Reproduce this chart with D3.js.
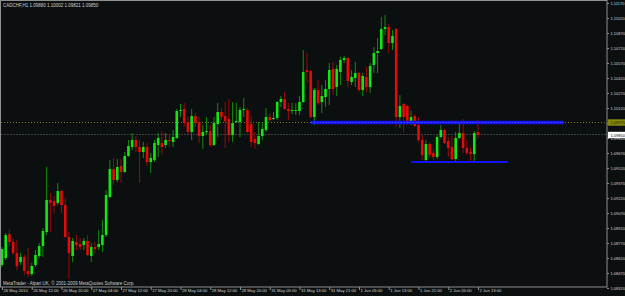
<!DOCTYPE html>
<html>
<head>
<meta charset="utf-8">
<script src="https://cdn.jsdelivr.net/npm/d3@7"></script>
<style>
  html, body { margin: 0; padding: 0; background: #0b0f0f; overflow: hidden; }
  text { font-family: "Liberation Sans", Arial, sans-serif; }
</style>
</head>
<body>
<div id="chart"></div>
<script>
// CADCHF H1, 26 May 04:00 .. 2 Jun 13:00 (2010)
const symbol = "CADCHF,H1";
const footer = "MetaTrader - Alpari UK, © 2001-2009 MetaQuotes Software Corp.";

const open = [1.0855,1.0862,1.0886,1.0878,1.0867,1.0858,1.0863,1.0849,1.0846,1.0855,
  1.0864,1.0874,1.0888,1.0920,1.0919,1.0917,1.0929,1.0915,1.0883,1.0864,
  1.0878,1.0876,1.0875,1.0879,1.0864,1.0873,1.0873,1.0875,1.0885,1.0923,
  1.0951,1.0940,1.0954,1.0948,1.0964,1.0973,1.0980,1.0973,1.0968,1.0973,
  1.0958,1.0960,1.0975,1.0977,1.0975,1.0980,1.0978,1.0982,1.1009,1.1011,
  1.0998,1.0988,1.1004,1.0998,1.0984,1.0988,1.0989,1.0975,1.0996,1.1008,
  1.1004,1.1001,1.0985,1.0998,1.0998,1.1010,1.1010,1.0996,1.0981,1.0976,
  1.0984,1.0990,1.1003,1.1001,1.1002,1.1018,1.1021,1.1011,1.1009,1.1009,
  1.1009,1.1018,1.1050,1.1049,1.1003,1.1030,1.1018,1.1023,1.1031,1.1051,
  1.1033,1.1048,1.1060,1.1062,1.1038,1.1042,1.1047,1.1030,1.1043,1.1033,
  1.1055,1.1067,1.1071,1.1091,1.1093,1.1077,1.1091,1.1003,1.1016,1.1014,
  1.0997,1.1004,1.0995,1.0980,1.0960,1.0976,1.0967,1.0963,1.0983,1.0990,
  1.0979,1.0973,1.0961,1.0982,1.0987,1.0972,1.0968,1.0966,1.09880];

const high = [1.0873,1.0887,1.0890,1.0881,1.0880,1.0867,1.0865,1.0872,1.0857,1.0870,
  1.0877,1.0892,1.0953,1.0927,1.0924,1.0937,1.0930,1.0922,1.0888,1.0882,
  1.0885,1.0882,1.0882,1.0885,1.0877,1.0878,1.0890,1.0900,1.0930,1.0960,
  1.0962,1.0961,1.0961,1.0968,1.0980,1.0987,1.0984,1.0980,1.0978,1.0977,
  1.0967,1.0980,1.0987,1.0989,1.0987,1.0986,1.0990,1.1011,1.1016,1.1017,
  1.1003,1.1011,1.1007,1.1003,1.0995,1.1003,1.0995,1.1003,1.1017,1.1012,
  1.1018,1.1021,1.1018,1.1017,1.1013,1.1022,1.1012,1.1004,1.0988,1.0998,
  1.0998,1.1012,1.1007,1.1008,1.1019,1.1024,1.1028,1.1017,1.1017,1.1017,
  1.1024,1.1070,1.1067,1.1050,1.1032,1.1040,1.1035,1.1040,1.1057,1.1058,
  1.1055,1.1063,1.1064,1.1063,1.1050,1.1058,1.1048,1.1047,1.1053,1.1057,
  1.1073,1.1082,1.1103,1.1105,1.1096,1.1090,1.1092,1.1025,1.1017,1.1015,
  1.1009,1.1006,1.1003,1.0985,1.0980,1.0978,1.0970,1.0985,1.0995,1.0991,
  1.0983,1.0984,1.0988,1.0997,1.1001,1.0980,1.0973,1.0989,1.10002];

const low = [1.0853,1.0860,1.0875,1.0865,1.0850,1.0855,1.0845,1.0843,1.0844,1.0853,
  1.0862,1.0863,1.0885,1.0888,1.0907,1.0915,1.0907,1.0882,1.0841,1.0858,
  1.0870,1.0870,1.0870,1.0864,1.0858,1.0867,1.0870,1.0868,1.0883,1.0922,
  1.0935,1.0938,1.0937,1.0947,1.0963,1.0970,1.0968,1.0937,1.0962,1.0954,
  1.0947,1.0958,1.0963,1.0965,1.0972,1.0973,1.0973,1.0981,1.1003,1.0993,
  1.0985,1.0980,1.0993,1.0977,1.0971,1.0985,1.0973,1.0974,1.0983,1.1000,
  1.0972,1.0978,1.0978,1.0997,1.0983,1.1003,1.0987,1.0973,1.0971,1.0975,
  1.0980,1.0988,1.0998,1.1000,1.1000,1.1013,1.1010,1.1000,1.1006,1.1005,
  1.1005,1.1017,1.1037,1.1002,1.0995,1.1015,1.1007,1.1013,1.1015,1.1025,
  1.1024,1.1035,1.1057,1.1033,1.1035,1.1033,1.1028,1.1024,1.1028,1.1027,
  1.1047,1.1047,1.1070,1.1085,1.1067,1.1070,1.0993,1.0992,1.0988,1.0995,
  1.0995,1.0993,1.0978,1.0960,1.0958,1.0962,1.0960,1.0961,1.0982,1.0976,
  1.0963,1.0960,1.0959,1.0981,1.0967,1.0965,1.0957,1.0958,1.09821];

const close = [1.0871,1.0885,1.0878,1.0867,1.0854,1.0863,1.0849,1.0846,1.0854,1.0865,
  1.0874,1.0889,1.0920,1.0917,1.0914,1.0929,1.0915,1.0883,1.0867,1.0879,
  1.0875,1.0873,1.0879,1.0865,1.0873,1.0871,1.0876,1.0885,1.0925,1.0951,
  1.0940,1.0953,1.0948,1.0964,1.0974,1.0980,1.0973,1.0968,1.0973,1.0958,
  1.0962,1.0977,1.0982,1.0973,1.0980,1.0979,1.0983,1.1009,1.1010,1.0997,
  1.0988,1.1004,1.0997,1.0984,1.0988,1.0989,1.0975,1.0997,1.1008,1.1003,
  1.0999,1.0985,1.0997,1.0999,1.1010,1.1011,1.0988,1.0978,1.0977,1.0984,
  1.0991,1.1003,1.1000,1.1002,1.1018,1.1021,1.1011,1.1009,1.1010,1.1010,
  1.1018,1.1048,1.1048,1.1003,1.1030,1.1017,1.1024,1.1031,1.1050,1.1031,
  1.1051,1.1060,1.1062,1.1039,1.1043,1.1047,1.1030,1.1044,1.1033,1.1054,
  1.1067,1.1069,1.1091,1.1093,1.1077,1.1084,1.1003,1.1014,1.1003,1.0997,
  1.1003,1.0994,1.0980,1.0965,1.0976,1.0965,1.0963,1.0983,1.0990,1.0977,
  1.0972,1.0961,1.0982,1.0987,1.0972,1.0967,1.0966,1.0987,1.09850];

// one label every 8 bars
const timeLabels = ["26 May 2010","26 May 12:00","26 May 20:00","27 May 04:00","27 May 12:00",
  "27 May 20:00","28 May 04:00","28 May 12:00","28 May 20:00","31 May 05:00","31 May 13:00",
  "31 May 21:00","1 Jun 05:00","1 Jun 13:00","1 Jun 21:00","2 Jun 05:00","2 Jun 13:00"];
const labelEvery = 8;

const yTicks = [1.11170,1.11020,1.10870,1.10720,1.10570,1.10420,1.10270,1.10120,1.09970,1.09820,
  1.09670,1.09520,1.09370,1.09220,1.09070,1.08920,1.08770,1.08620,1.08470,1.08320];
const priceMin = 1.0833, priceMax = 1.1117;

const bidPrice = 1.09850;
const hLinePrice = 1.09975;
// drawn lines (bar index from/to, price)
const trendFrom = [83, 110];
const trendTo = [151, 136];
const trendPrice = [1.09975, 1.0958];

const W = 625, H = 296;
const frame = { left: 1, top: 1, right: 607, bottom: 287 };
const fontSmall = "4.2px";
const fontAxis = "4px";

const svg = d3.select("#chart").append("svg")
  .attr("width", W).attr("height", H)
  .style("display", "block")
  .style("background", "#0b0f0f");

const x = d3.scaleLinear().domain([0, open.length - 1]).range([2, 478]);
const y = d3.scaleLinear().domain([priceMin, priceMax]).range([287, 3]);

svg.append("clipPath").attr("id", "plotclip")
  .append("rect")
  .attr("x", frame.left).attr("y", frame.top)
  .attr("width", frame.right - frame.left).attr("height", frame.bottom - frame.top);

const plot = svg.append("g").attr("clip-path", "url(#plotclip)");

// horizontal line object (dotted olive)
plot.append("line")
  .attr("x1", frame.left).attr("x2", frame.right)
  .attr("y1", y(hLinePrice)).attr("y2", y(hLinePrice))
  .attr("stroke", "#77771a").attr("stroke-width", 1)
  .attr("stroke-dasharray", "1,2");

// bid line
plot.append("line")
  .attr("x1", frame.left).attr("x2", frame.right)
  .attr("y1", y(bidPrice) - 0.5).attr("y2", y(bidPrice) - 0.5)
  .attr("stroke", "#3d4242").attr("stroke-width", 1)
  .attr("stroke-dasharray", "2,1");

const bars = d3.range(open.length).map(i => ({
  i, o: open[i], h: high[i], l: low[i], c: close[i], up: close[i] >= open[i]
}));

// wicks
plot.selectAll(".wick").data(bars).join("line")
  .attr("class", "wick")
  .attr("x1", d => x(d.i)).attr("x2", d => x(d.i))
  .attr("y1", d => y(d.h)).attr("y2", d => y(d.l))
  .attr("stroke", d => d.up ? "#108c10" : "#9a0a0a")
  .attr("stroke-width", 1);

// bodies
const bw = 2.6;
plot.selectAll(".body").data(bars).join("rect")
  .attr("class", "body")
  .attr("x", d => x(d.i) - bw / 2)
  .attr("y", d => y(Math.max(d.o, d.c)))
  .attr("width", bw)
  .attr("height", d => Math.max(1, Math.abs(y(d.o) - y(d.c))))
  .attr("fill", d => d.up ? "#14e614" : "#e60a0a");

// trend lines
trendFrom.forEach((f, k) => {
  const yy = y(trendPrice[k]);
  plot.append("line")
    .attr("x1", x(f)).attr("x2", x(trendTo[k]))
    .attr("y1", yy).attr("y2", yy)
    .attr("stroke", "#1212f5").attr("stroke-width", k === 0 ? 3.5 : 2);
  if (k === 0) {
    plot.append("line")
      .attr("x1", x(f)).attr("x2", x(trendTo[k]))
      .attr("y1", yy).attr("y2", yy)
      .attr("stroke", "#6a6aff").attr("stroke-width", 1)
      .attr("stroke-dasharray", "1,2");
  }
});

// frame
svg.append("rect")
  .attr("x", frame.left - 0.5).attr("y", frame.top - 0.5)
  .attr("width", frame.right - frame.left + 0.5)
  .attr("height", frame.bottom - frame.top + 0.5)
  .attr("fill", "none").attr("stroke", "#8e9090").attr("stroke-width", 1);

// price axis
const yAxis = svg.append("g")
  .attr("transform", `translate(${frame.right},0)`)
  .call(d3.axisRight(y).tickValues(yTicks).tickSize(2).tickPadding(1.5)
    .tickFormat(d3.format(".5f")));
yAxis.select(".domain").remove();
yAxis.selectAll(".tick line").attr("stroke", "#8e9090");
yAxis.selectAll(".tick text")
  .attr("fill", "#d6d6d6").style("font-size", fontAxis)
  .style("font-family", "'Liberation Sans', Arial, sans-serif");

// time axis
const xAxis = svg.append("g")
  .attr("transform", `translate(0,${frame.bottom})`)
  .call(d3.axisBottom(x)
    .tickValues(timeLabels.map((_, k) => k * labelEvery))
    .tickSize(3)
    .tickFormat((d, k) => timeLabels[k]));
xAxis.select(".domain").remove();
xAxis.selectAll(".tick line").attr("stroke", "#8e9090");
xAxis.selectAll(".tick text")
  .attr("fill", "#d6d6d6").attr("text-anchor", "start")
  .attr("x", 1).attr("y", 2.5).attr("dy", "0.71em")
  .style("font-size", fontSmall)
  .style("font-family", "'Liberation Sans', Arial, sans-serif");

// price tags on the axis
function tag(price, bg, fg) {
  const g = svg.append("g").attr("transform", `translate(${frame.right + 1},${y(price)})`);
  g.append("rect").attr("x", 0).attr("y", -3.2).attr("width", 18).attr("height", 6.4).attr("fill", bg);
  g.append("text").attr("x", 2.5).attr("y", 1.5).attr("fill", fg)
    .style("font-size", fontAxis).text(d3.format(".5f")(price));
}
tag(hLinePrice, "#87870f", "#1a1a00");
tag(bidPrice, "#ffffff", "#000000");

// header and footer
const last = open.length - 1;
svg.append("text").attr("x", 3).attr("y", 7).attr("fill", "#d0d0d0")
  .style("font-size", "4.5px")
  .text(`${symbol}  ${[open[last], high[last], low[last], close[last]].map(d3.format(".5f")).join(" ")}`);
svg.append("text").attr("x", 3).attr("y", 284.5).attr("fill", "#d0d0d0")
  .style("font-size", "4.5px")
  .text(footer);
</script>
</body>
</html>
